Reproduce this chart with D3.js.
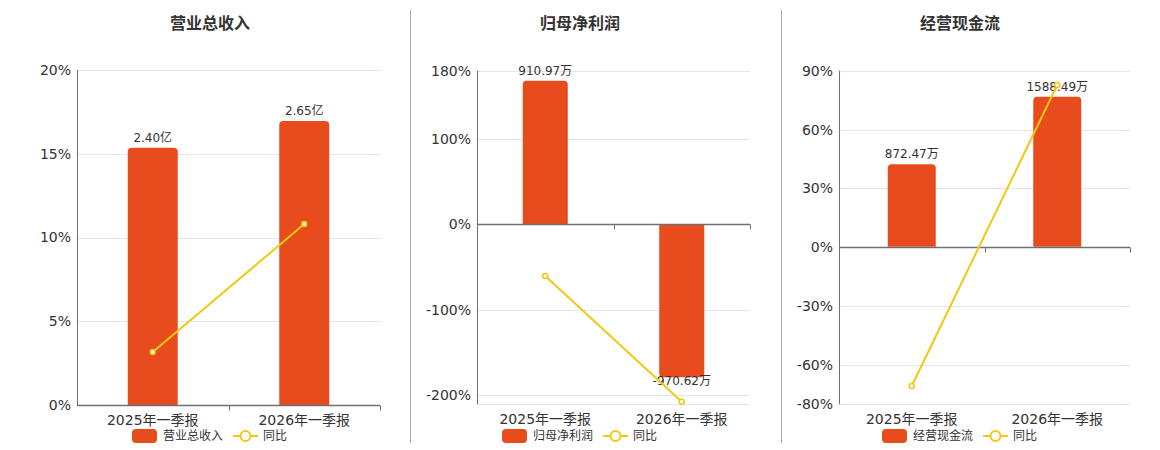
<!DOCTYPE html>
<html>
<head>
<meta charset="utf-8">
<script src="https://cdn.jsdelivr.net/npm/d3@7"></script>
<style>
  body { margin: 0; background: #fff; }
  text { font-family: "DejaVu Sans", "Noto Sans CJK SC", sans-serif; }
</style>
</head>
<body>
<div id="chart"></div>
<script>
// Data
const categories = ["2025年一季报", "2026年一季报"];

const revenueValues = [2.40, 2.65];        // 亿
const revenueYoY = [3.16, 10.8];           // %
const revenueTicks = [0, 5, 10, 15, 20];

const profitValues = [910.97, -970.62];    // 万
const profitYoY = [-60.6, -208];
const profitTicks = [-200, -100, 0, 100, 180];

const cashValues = [872.47, 1588.49];      // 万
const cashYoY = [-70.7, 82.7];
const cashTicks = [-80, -60, -30, 0, 30, 60, 90];

const W = 1160, H = 450;
const barColor = "#e84c1d";
const lineColor = "#f2c811";
const gridColor = "#e0e6f1";
const axisColor = "#6e7079";
const textColor = "#333";

const svg = d3.select("#chart").append("svg")
    .attr("width", W)
    .attr("height", H);

// Panel layout (values come from the arrays above)
const panels = [
    { title: "营业总收入", cx: 210, x0: 77, x1: 380, top: 70, bottom: 405,
      values: revenueValues, yoy: revenueYoY, ticks: revenueTicks, unit: "亿",
      domain: [0, 20], barDomain: [0, 3.125] },
    { title: "归母净利润", cx: 580, x0: 477, x1: 750, top: 70.7, bottom: 404.3,
      values: profitValues, yoy: profitYoY, ticks: profitTicks, unit: "万",
      domain: [-211, 180], barDomain: [-1142, 974] },
    { title: "经营现金流", cx: 960, x0: 839, x1: 1130, top: 70.7, bottom: 404.3,
      values: cashValues, yoy: cashYoY, ticks: cashTicks, unit: "万",
      domain: [-80, 90], barDomain: [-1669, 1864] }
];

// separators between panels
[410.5, 781.5].forEach(x => {
    svg.append("line")
        .attr("x1", x).attr("x2", x)
        .attr("y1", 10).attr("y2", 443)
        .attr("stroke", "#aaa")
        .attr("stroke-width", 1);
});

// bar with rounded corners on the value end
function barPath(x, w, y0, y1, r) {
    if (y1 < y0) {
        return `M${x},${y0}V${y1 + r}Q${x},${y1} ${x + r},${y1}H${x + w - r}Q${x + w},${y1} ${x + w},${y1 + r}V${y0}Z`;
    }
    return `M${x},${y0}V${y1 - r}Q${x},${y1} ${x + r},${y1}H${x + w - r}Q${x + w},${y1} ${x + w},${y1 - r}V${y0}Z`;
}

panels.forEach(p => {
    const g = svg.append("g");

    const x = d3.scaleBand()
        .domain(categories)
        .range([p.x0, p.x1])
        .padding(0);

    const y = d3.scaleLinear()
        .domain(p.domain)
        .range([p.bottom, p.top]);

    // hidden axis for the bars
    const yBar = d3.scaleLinear()
        .domain(p.barDomain)
        .range([p.bottom, p.top]);

    // title
    g.append("text")
        .attr("x", p.cx)
        .attr("y", 29)
        .attr("text-anchor", "middle")
        .attr("font-size", 16)
        .attr("font-weight", "bold")
        .attr("fill", textColor)
        .text(p.title);

    // grid lines
    const gridVals = p.ticks.concat(p.domain[0] < p.ticks[0] ? [p.domain[0]] : []);
    g.append("g")
        .selectAll("line")
        .data(gridVals.filter(v => v !== 0))
        .enter().append("line")
        .attr("x1", p.x0).attr("x2", p.x1)
        .attr("y1", d => Math.round(y(d)) + 0.5)
        .attr("y2", d => Math.round(y(d)) + 0.5)
        .attr("stroke", gridColor);

    // y axis
    const yAxis = d3.axisLeft(y)
        .tickValues(p.ticks)
        .tickSize(0)
        .tickPadding(6)
        .tickFormat(d => d + "%");

    const ya = g.append("g")
        .attr("transform", `translate(${p.x0},0)`)
        .call(yAxis);
    ya.select(".domain")
        .attr("stroke", axisColor)
        .attr("d", `M0.5,${p.top}V${p.bottom}`);
    ya.selectAll("text")
        .attr("font-size", 14)
        .attr("fill", textColor);

    // bars
    const bw = x.bandwidth() * 0.33;
    const zero = yBar(0);
    g.append("g")
        .selectAll("path")
        .data(p.values)
        .enter().append("path")
        .attr("d", (d, i) => barPath(x(categories[i]) + (x.bandwidth() - bw) / 2, bw, zero, yBar(d), 4))
        .attr("fill", barColor);

    // bar value labels
    g.append("g")
        .selectAll("text")
        .data(p.values)
        .enter().append("text")
        .attr("x", (d, i) => x(categories[i]) + x.bandwidth() / 2)
        .attr("y", d => d >= 0 ? yBar(d) - 6 : yBar(d) + 8)
        .attr("text-anchor", "middle")
        .attr("font-size", 12)
        .attr("fill", textColor)
        .text(d => d.toFixed(2) + p.unit);

    // x axis at zero
    const xAxis = d3.axisBottom(x)
        .tickSize(0)
        .tickFormat("");
    const xa = g.append("g")
        .attr("transform", `translate(0,${Math.round(y(0)) + 0.5})`)
        .call(xAxis);
    xa.select(".domain")
        .attr("stroke", axisColor)
        .attr("stroke-width", 1.5)
        .attr("d", `M${p.x0},0H${p.x1}`);
    xa.selectAll(".tick").remove();
    xa.selectAll("line.bound")
        .data(categories.map(c => x(c) + x.bandwidth()))
        .enter().append("line")
        .attr("class", "bound")
        .attr("x1", d => Math.round(d) + 0.5).attr("x2", d => Math.round(d) + 0.5)
        .attr("y1", 0).attr("y2", 5)
        .attr("stroke", axisColor);

    // category labels at bottom
    g.append("g")
        .selectAll("text")
        .data(categories)
        .enter().append("text")
        .attr("x", d => x(d) + x.bandwidth() / 2)
        .attr("y", p.bottom + 20)
        .attr("text-anchor", "middle")
        .attr("font-size", 14)
        .attr("fill", textColor)
        .text(d => d);

    // yoy line
    const line = d3.line()
        .x((d, i) => x(categories[i]) + x.bandwidth() / 2)
        .y(d => y(d));
    g.append("path")
        .datum(p.yoy)
        .attr("d", line)
        .attr("fill", "none")
        .attr("stroke", lineColor)
        .attr("stroke-width", 2);
    g.append("g")
        .selectAll("circle")
        .data(p.yoy)
        .enter().append("circle")
        .attr("cx", (d, i) => x(categories[i]) + x.bandwidth() / 2)
        .attr("cy", d => y(d))
        .attr("r", 2.5)
        .attr("fill", "#fff")
        .attr("stroke", lineColor)
        .attr("stroke-width", 1.5);

    // legend
    const lg = g.append("g").attr("transform", `translate(${p.cx},436)`);
    lg.append("rect")
        .attr("x", -78).attr("y", -7)
        .attr("width", 25).attr("height", 14)
        .attr("rx", 4)
        .attr("fill", barColor);
    lg.append("text")
        .attr("x", -47).attr("y", 0)
        .attr("dominant-baseline", "central")
        .attr("font-size", 12)
        .attr("fill", textColor)
        .text(p.title);
    lg.append("line")
        .attr("x1", 23).attr("x2", 48)
        .attr("y1", 0).attr("y2", 0)
        .attr("stroke", lineColor)
        .attr("stroke-width", 2);
    lg.append("circle")
        .attr("cx", 35.5).attr("cy", 0)
        .attr("r", 5)
        .attr("fill", "#fff")
        .attr("stroke", lineColor)
        .attr("stroke-width", 2);
    lg.append("text")
        .attr("x", 53).attr("y", 0)
        .attr("dominant-baseline", "central")
        .attr("font-size", 12)
        .attr("fill", textColor)
        .text("同比");
});
</script>
</body>
</html>
